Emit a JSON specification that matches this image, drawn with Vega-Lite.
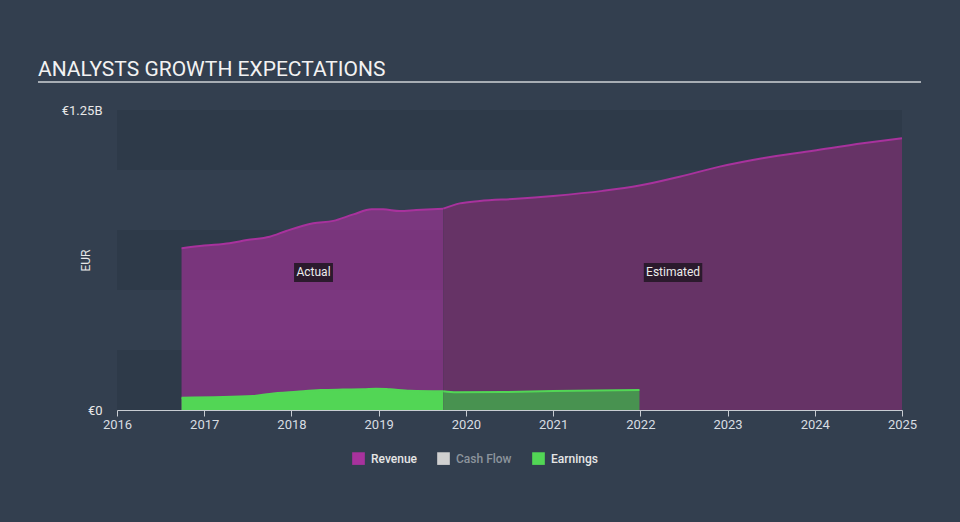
{
  "$schema": "https://vega.github.io/schema/vega-lite/v6.json",
  "width": 785,
  "height": 300,
  "autosize": "none",
  "padding": {"left": 117, "top": 110, "right": 58, "bottom": 112},
  "background": "#333f4f",
  "config": {"view": {"stroke": null}, "font": "Roboto"},
  "title": {"text": "ANALYSTS GROWTH EXPECTATIONS", "anchor": "start", "frame": "group", "dx": -79, "offset": 1, "fontSize": 21, "fontWeight": "normal", "color": "#f2f2f2", "font": "Roboto"},
  "datasets": {
    "one": [{}],
    "bands": [
      {"lo": 0, "hi": 0.25},
      {"lo": 0.5, "hi": 0.75},
      {"lo": 1.0, "hi": 1.25}
    ],
    "series": [
      {"series": "Revenue", "phase": "Actual", "year": 2016.74, "value": 0.674},
      {"series": "Revenue", "phase": "Actual", "year": 2017.0, "value": 0.685},
      {"series": "Revenue", "phase": "Actual", "year": 2017.29, "value": 0.695},
      {"series": "Revenue", "phase": "Actual", "year": 2017.49, "value": 0.708},
      {"series": "Revenue", "phase": "Actual", "year": 2017.75, "value": 0.722},
      {"series": "Revenue", "phase": "Actual", "year": 2017.94, "value": 0.746},
      {"series": "Revenue", "phase": "Actual", "year": 2018.25, "value": 0.778},
      {"series": "Revenue", "phase": "Actual", "year": 2018.48, "value": 0.788},
      {"series": "Revenue", "phase": "Actual", "year": 2018.71, "value": 0.815},
      {"series": "Revenue", "phase": "Actual", "year": 2018.92, "value": 0.836},
      {"series": "Revenue", "phase": "Actual", "year": 2019.05, "value": 0.836},
      {"series": "Revenue", "phase": "Actual", "year": 2019.24, "value": 0.829},
      {"series": "Revenue", "phase": "Actual", "year": 2019.43, "value": 0.833},
      {"series": "Revenue", "phase": "Actual", "year": 2019.74, "value": 0.839},
      {"series": "Revenue", "phase": "Estimated", "year": 2019.74, "value": 0.839},
      {"series": "Revenue", "phase": "Estimated", "year": 2019.93, "value": 0.861},
      {"series": "Revenue", "phase": "Estimated", "year": 2020.16, "value": 0.871},
      {"series": "Revenue", "phase": "Estimated", "year": 2020.58, "value": 0.880},
      {"series": "Revenue", "phase": "Estimated", "year": 2021.0, "value": 0.892},
      {"series": "Revenue", "phase": "Estimated", "year": 2021.57, "value": 0.913},
      {"series": "Revenue", "phase": "Estimated", "year": 2021.99, "value": 0.935},
      {"series": "Revenue", "phase": "Estimated", "year": 2022.45, "value": 0.972},
      {"series": "Revenue", "phase": "Estimated", "year": 2022.91, "value": 1.014},
      {"series": "Revenue", "phase": "Estimated", "year": 2023.40, "value": 1.049},
      {"series": "Revenue", "phase": "Estimated", "year": 2023.98, "value": 1.080},
      {"series": "Revenue", "phase": "Estimated", "year": 2024.55, "value": 1.111},
      {"series": "Revenue", "phase": "Estimated", "year": 2025.0, "value": 1.132},
      {"series": "Earnings", "phase": "Actual", "year": 2016.74, "value": 0.051},
      {"series": "Earnings", "phase": "Actual", "year": 2017.56, "value": 0.058},
      {"series": "Earnings", "phase": "Actual", "year": 2017.75, "value": 0.067},
      {"series": "Earnings", "phase": "Actual", "year": 2018.06, "value": 0.076},
      {"series": "Earnings", "phase": "Actual", "year": 2018.33, "value": 0.083},
      {"series": "Earnings", "phase": "Actual", "year": 2018.59, "value": 0.085},
      {"series": "Earnings", "phase": "Actual", "year": 2018.82, "value": 0.086},
      {"series": "Earnings", "phase": "Actual", "year": 2018.97, "value": 0.089},
      {"series": "Earnings", "phase": "Actual", "year": 2019.13, "value": 0.086},
      {"series": "Earnings", "phase": "Actual", "year": 2019.36, "value": 0.080},
      {"series": "Earnings", "phase": "Actual", "year": 2019.74, "value": 0.078},
      {"series": "Earnings", "phase": "Estimated", "year": 2019.74, "value": 0.078},
      {"series": "Earnings", "phase": "Estimated", "year": 2019.89, "value": 0.074},
      {"series": "Earnings", "phase": "Estimated", "year": 2020.43, "value": 0.075},
      {"series": "Earnings", "phase": "Estimated", "year": 2021.0, "value": 0.079},
      {"series": "Earnings", "phase": "Estimated", "year": 2021.99, "value": 0.083}
    ]
  },
  "layer": [
    {
      "data": {"name": "bands"},
      "mark": {"type": "rect", "color": "#2e3a49"},
      "encoding": {
        "x": {"datum": 2016, "type": "quantitative"},
        "x2": {"datum": 2025},
        "y": {"field": "lo", "type": "quantitative"},
        "y2": {"field": "hi"}
      }
    },
    {
      "data": {"name": "series"},
      "transform": [{"filter": "datum.series == 'Revenue' && datum.phase == 'Actual'"}],
      "mark": {"type": "area", "interpolate": "monotone", "fillOpacity": 0.62, "line": {"strokeWidth": 2}},
      "encoding": {
        "x": {"field": "year", "type": "quantitative",
          "scale": {"domain": [2016, 2025], "nice": false, "zero": false},
          "axis": {"values": [2016, 2017, 2018, 2019, 2020, 2021, 2022, 2023, 2024, 2025], "format": "d", "title": null, "grid": false, "labelFlush": false,
            "domainColor": "#c8ccd2", "tickColor": "#c8ccd2", "tickSize": 6, "labelColor": "#d8dde2", "labelFontSize": 13, "labelPadding": 2,
            "encode": {"labels": {"update": {"align": {"signal": "datum.value == 2025 ? 'right' : 'center'"}}}}}},
        "y": {"field": "value", "type": "quantitative",
          "scale": {"domain": [0, 1.25], "nice": false, "zero": true},
          "axis": {"values": [0, 1.25], "labelExpr": "datum.value == 0 ? '€0' : '€1.25B'", "grid": false, "ticks": false, "domain": false,
            "labelPadding": 15, "labelColor": "#e8e8e8", "labelFontSize": 13,
            "title": "EUR", "titleColor": "#e8e8e8", "titleFontSize": 12, "titleFontWeight": "normal",
            "titleX": -32, "titleY": 150, "titleAngle": -90, "titleBaseline": "middle", "titleAlign": "center"}},
        "color": {"field": "series", "type": "nominal",
          "scale": {"domain": ["Revenue", "Cash Flow", "Earnings"], "range": ["#a8329d", "#d0d0d0", "#52d655"]},
          "legend": {"orient": "none", "legendX": 235, "legendY": 342, "direction": "horizontal", "title": null,
            "symbolType": "square", "symbolSize": 160, "symbolOpacity": 1, "symbolStrokeWidth": 0,
            "labelFontSize": 12, "labelFontWeight": 500, "labelColor": "#e6e6e6", "labelOffset": 6, "columnPadding": 20,
            "encode": {"labels": {"update": {"fill": {"signal": "datum.label == 'Cash Flow' ? '#8c949c' : '#e6e6e6'"}}}}}}
      }
    },
    {
      "data": {"name": "series"},
      "transform": [{"filter": "datum.series == 'Revenue' && datum.phase == 'Estimated'"}],
      "mark": {"type": "area", "interpolate": "monotone", "fill": "#663366", "fillOpacity": 1, "line": {"stroke": "#a8329d", "strokeWidth": 2}},
      "encoding": {
        "x": {"field": "year", "type": "quantitative"},
        "y": {"field": "value", "type": "quantitative"}
      }
    },
    {
      "data": {"name": "series"},
      "transform": [{"filter": "datum.series == 'Earnings' && datum.phase == 'Actual'"}],
      "mark": {"type": "area", "interpolate": "monotone", "fillOpacity": 1, "line": {"strokeWidth": 2}},
      "encoding": {
        "x": {"field": "year", "type": "quantitative"},
        "y": {"field": "value", "type": "quantitative"},
        "color": {"field": "series", "type": "nominal"}
      }
    },
    {
      "data": {"name": "series"},
      "transform": [{"filter": "datum.series == 'Earnings' && datum.phase == 'Estimated'"}],
      "mark": {"type": "area", "interpolate": "monotone", "fill": "#489250", "fillOpacity": 1, "line": {"stroke": "#52d655", "strokeWidth": 2}},
      "encoding": {
        "x": {"field": "year", "type": "quantitative"},
        "y": {"field": "value", "type": "quantitative"}
      }
    },
    {
      "data": {"name": "one"},
      "mark": {"type": "rect", "color": "#2b1a2d"},
      "encoding": {
        "x": {"datum": 2018.03, "type": "quantitative"},
        "x2": {"datum": 2018.476},
        "y": {"datum": 0.6125, "type": "quantitative"},
        "y2": {"datum": 0.5333}
      }
    },
    {
      "data": {"name": "one"},
      "mark": {"type": "rect", "color": "#2b1a2d"},
      "encoding": {
        "x": {"datum": 2022.04, "type": "quantitative"},
        "x2": {"datum": 2022.71},
        "y": {"datum": 0.6125, "type": "quantitative"},
        "y2": {"datum": 0.5333}
      }
    },
    {
      "data": {"name": "one"},
      "mark": {"type": "text", "color": "#ececec", "fontSize": 12, "align": "center", "baseline": "middle"},
      "encoding": {
        "x": {"datum": 2018.253, "type": "quantitative"},
        "y": {"datum": 0.573, "type": "quantitative"},
        "text": {"value": "Actual"}
      }
    },
    {
      "data": {"name": "one"},
      "mark": {"type": "text", "color": "#ececec", "fontSize": 12, "align": "center", "baseline": "middle"},
      "encoding": {
        "x": {"datum": 2022.375, "type": "quantitative"},
        "y": {"datum": 0.573, "type": "quantitative"},
        "text": {"value": "Estimated"}
      }
    },
    {
      "data": {"name": "one"},
      "mark": {"type": "rule", "color": "#a7adb4", "strokeWidth": 2},
      "encoding": {
        "x": {"datum": 2015.094, "type": "quantitative"},
        "x2": {"datum": 2025.218},
        "y": {"datum": 1.3667, "type": "quantitative"}
      }
    }
  ]
}
